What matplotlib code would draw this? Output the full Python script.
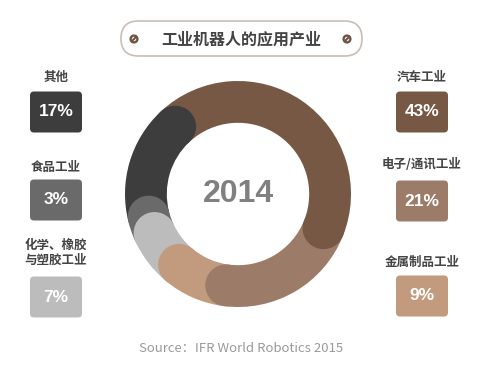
import numpy as np
import matplotlib.pyplot as plt
from matplotlib.patches import Circle, FancyBboxPatch

plt.rcParams['font.family'] = ['Noto Sans CJK SC', 'DejaVu Sans']

# 数据 (clockwise from the top-left)
labels = ['汽车工业', '电子/通讯工业', '金属制品工业', '化学、橡胶\n与塑胶工业', '食品工业', '其他']
shares = [43, 21, 9, 7, 3, 17]
colors = ['#765845', '#9c7b69', '#c29b7f', '#bcbcbc', '#6a6a6a', '#3d3d3d']
year = '2014'
title = '工业机器人的应用产业'
source = 'Source：IFR World Robotics 2015'

fig = plt.figure(figsize=(5, 3.67), dpi=100)
bg = fig.add_axes([0, 0, 1, 1])
bg.set_xlim(0, 500)
bg.set_ylim(367, 0)
bg.axis('off')

# Donut
cx, cy, R = 238, 194, 113
ax = fig.add_axes([(cx - R) / 500, (367 - cy - R) / 367, 2 * R / 500, 2 * R / 367])
w = 0.37
wedges, _ = ax.pie(shares, colors=colors, startangle=133, counterclock=False,
                   radius=1, wedgeprops=dict(width=w, linewidth=0))
ax.set_xlim(-1, 1)
ax.set_ylim(-1, 1)
# rounded ends: cap at the clockwise end of each segment, drawn in reverse order
rm = 1 - w / 2
for wdg in reversed(wedges):
    a = np.deg2rad(wdg.theta1)
    ax.add_patch(Circle((rm * np.cos(a), rm * np.sin(a)), w / 2,
                        color=wdg.get_facecolor(), lw=0, zorder=3))
ax.text(0, 0, year, ha='center', va='center', fontsize=23, fontweight='bold',
        color='#808080', family='Liberation Sans')

# Title box
bg.add_patch(FancyBboxPatch((121, 21), 241, 35, boxstyle='round,pad=0,rounding_size=17.5',
                            fc='white', ec='#c9bdb5', lw=1.2))
bg.text(241, 39, title, ha='center', va='center', fontsize=11.5, fontweight='bold', color='#444444')
for x in (134, 347):
    bg.add_patch(Circle((x, 39), 3.4, fc='none', ec='#6e5546', lw=1.7))
    bg.plot([x - 2.1, x + 2.1], [39 + 2.1, 39 - 2.1], color='#6e5546', lw=1.5)

# Side labels
positions = [(422, 78, 112), (422, 165, 201), (422, 262, 296),
             (56, 253, 297), (56, 167, 200), (56, 77, 112)]
for lab, val, col, (x, ly, by) in zip(labels, shares, colors, positions):
    bg.text(x, ly, lab, ha='center', va='center', fontsize=9, fontweight='bold',
            color='#444444', linespacing=1.25)
    bg.add_patch(FancyBboxPatch((x - 26, by - 20.5), 52, 41,
                                boxstyle='round,pad=0,rounding_size=4', fc=col, lw=0))
    bg.text(x, by, f'{val}%', ha='center', va='center', fontsize=12.5, fontweight='bold',
            color='white', family='Liberation Sans')

bg.text(241, 348, source, ha='center', va='center', fontsize=9.5, color='#9a9a9a')

fig.savefig('out.png', dpi=100, facecolor='white')
